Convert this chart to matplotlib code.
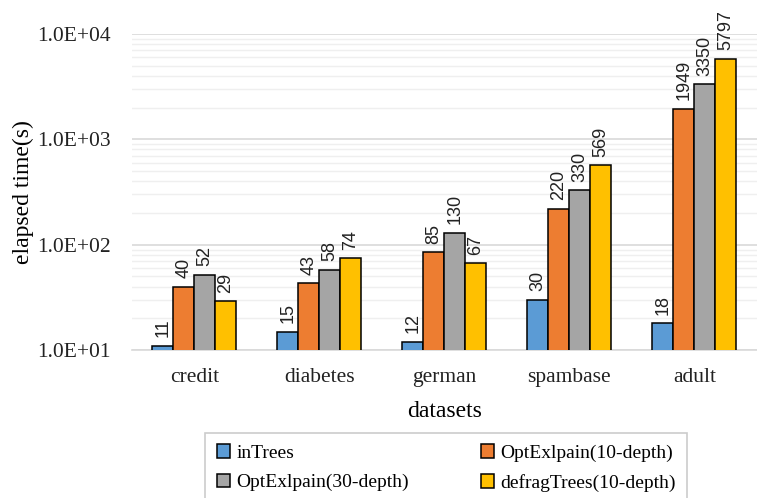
import matplotlib
matplotlib.use("Agg")
import matplotlib.pyplot as plt
import numpy as np
from matplotlib.ticker import LogLocator, FixedLocator, NullFormatter

datasets = ["credit", "diabetes", "german", "spambase", "adult"]
series_names = ["inTrees", "OptExlpain(10-depth)", "OptExlpain(30-depth)", "defragTrees(10-depth)"]
in_trees = [11, 15, 12, 30, 18]
opt_10 = [40, 43, 85, 220, 1949]
opt_30 = [52, 58, 130, 330, 3350]
defrag_10 = [29, 74, 67, 569, 5797]
ytick_labels = ["1.0E+01", "1.0E+02", "1.0E+03", "1.0E+04"]

colors = ["#5B9BD5", "#ED7D31", "#A5A5A5", "#FFC000"]
serif = "Liberation Serif"
sans = "Liberation Sans"

fig = plt.figure(figsize=(7.57, 4.98), dpi=100)
ax = fig.add_axes([0.174, 0.297, 0.826, 0.635])

x = np.arange(len(datasets))
width = 0.168
all_series = [in_trees, opt_10, opt_30, defrag_10]
handles = []
for i, (vals, name, c) in enumerate(zip(all_series, series_names, colors)):
    pos = x + (i - 1.5) * width
    bars = ax.bar(pos, vals, width, color=c, edgecolor="black", linewidth=1.1,
                  label=name, zorder=3)
    handles.append(bars)
    for b, v in zip(bars, vals):
        ax.annotate(str(v), (b.get_x() + b.get_width() / 2, v),
                    xytext=(0, 6), textcoords="offset points",
                    rotation=90, ha="center", va="bottom",
                    fontsize=13, family=sans, color="#222222")

ax.set_yscale("log")
ax.set_ylim(10, 10000)
ax.set_xlim(-0.5, len(datasets) - 0.5)
ax.yaxis.set_major_locator(FixedLocator([10, 100, 1000, 10000]))
ax.set_yticklabels(ytick_labels)
ax.yaxis.set_minor_locator(LogLocator(base=10, subs=np.arange(2, 10)))
ax.yaxis.set_minor_formatter(NullFormatter())
ax.grid(which="major", axis="y", color="#D9D9D9", linewidth=1.2, zorder=0)
ax.grid(which="minor", axis="y", color="#EFEFEF", linewidth=1.0, zorder=0)
ax.set_axisbelow(True)
for s in ["top", "right", "left"]:
    ax.spines[s].set_visible(False)
ax.spines["bottom"].set_color("#D9D9D9")
ax.spines["bottom"].set_linewidth(1.2)
ax.tick_params(axis="both", which="both", length=0)
ax.tick_params(axis="y", pad=15)
ax.tick_params(axis="x", pad=13)

ax.set_xticks(x)
ax.set_xticklabels(datasets)
for lab in ax.get_xticklabels() + ax.get_yticklabels():
    lab.set_family(serif)
    lab.set_fontsize(15.5)
    lab.set_color("#222222")

ax.set_xlabel("datasets", family=serif, fontsize=17, labelpad=10)
ax.set_ylabel("elapsed time(s)", family=serif, fontsize=17, labelpad=2)

order = [0, 2, 1, 3]
leg = fig.legend([handles[k] for k in order], [series_names[k] for k in order],
                 loc="upper left", bbox_to_anchor=(0.271, 0.131), ncol=2,
                 prop={"family": serif, "size": 14}, frameon=True, fancybox=False,
                 handlelength=0.7, handleheight=0.7, handletextpad=0.3,
                 columnspacing=3.7, borderpad=0.6, labelspacing=0.6,
                 borderaxespad=0)
leg.get_frame().set_edgecolor("#BFBFBF")
leg.get_frame().set_linewidth(1.2)

fig.savefig("out.png", dpi=100)
